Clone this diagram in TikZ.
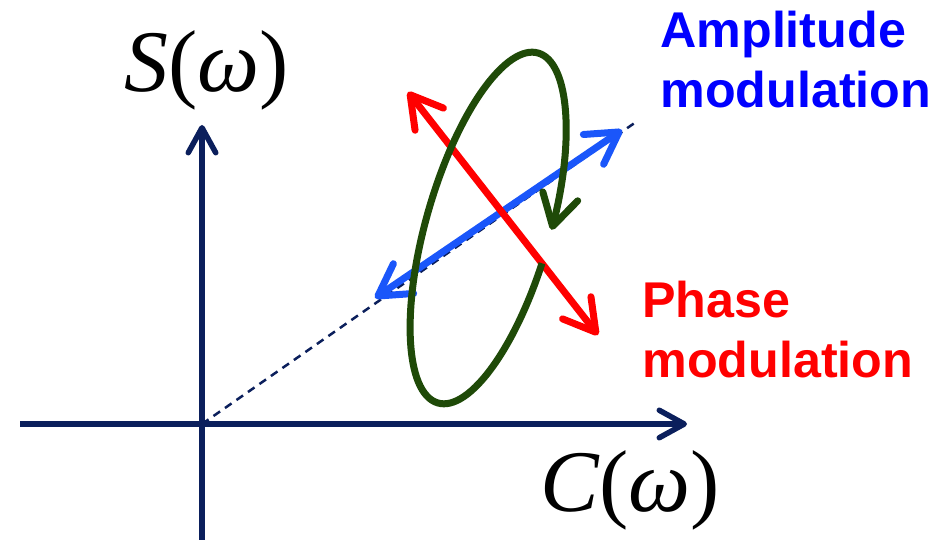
\documentclass[tikz,border=0pt]{standalone}
\usepackage{fontspec}
\setmainfont{Liberation Serif}
\newfontfamily\modfont{Liberation Sans}
\usetikzlibrary{arrows.meta}
\definecolor{AxisNavy}{HTML}{0B1F5C}
\definecolor{AmpBlue}{HTML}{1A56FA}
\definecolor{LabelBlue}{HTML}{0000FF}
\definecolor{PhaseRed}{HTML}{FF0000}
\definecolor{OrbitGreen}{HTML}{1F4A08}

\begin{document}
\begin{tikzpicture}[
      x=0.02cm,y=0.02cm,
      axis/.style={AxisNavy,line width=0.11cm,
                   -{Straight Barb[length=0.5cm,width=0.55cm,round]}},
      mod/.style={line width=0.14cm,
                  {Straight Barb[length=0.62cm,width=0.72cm,round]}-{Straight Barb[length=0.62cm,width=0.72cm,round]}},
      orbit/.style={OrbitGreen,line width=0.14cm,
                    -{Straight Barb[length=0.62cm,width=0.72cm,round]}},
      fn/.style={font=\fontsize{50}{50}\selectfont,inner sep=0pt,anchor=base},
      tag/.style={font=\modfont\bfseries\fontsize{28.6}{34.6}\selectfont,
                  align=left,inner sep=0pt,anchor=base west},
    ]
    \useasboundingbox (0,0) rectangle (949,540);
    % Axes
    \coordinate (O)      at (202,116);
    \coordinate (xstart) at (20,116);
    \coordinate (xend)   at (687,116);
    \coordinate (ystart) at (202,0);
    \coordinate (yend)   at (202,415);
    \coordinate (ray)    at (636,418);
    \draw[axis] (xstart) -- (xend);
    \draw[axis] (ystart) -- (yend);
    \draw[AxisNavy,line width=0.05cm,dash pattern=on 0.16cm off 0.12cm] (O) -- (ray);
    \node[fn] (Slabel) at (207,448) {\textit{S}(\textit{ω})};
    \node[fn] (Clabel) at (630,28)  {\textit{C}(\textit{ω})};
    % Modulation directions
    \coordinate (amp1) at (375,242);
    \coordinate (amp2) at (622,410);
    \coordinate (ph1)  at (408,448);
    \coordinate (ph2)  at (598,205);
    \draw[mod,AmpBlue] (amp1) -- (amp2);
    \draw[mod,PhaseRed] (ph1) -- (ph2);
    % Orbit
    \coordinate (centre) at (488,312);
    \begin{scope}[shift={(centre)},rotate=74]
      \draw[orbit] (264:182 and 62) arc[start angle=264,end angle=-85,x radius=182,y radius=62];
    \end{scope}
    % Labels (anchored on the last line)
    \node[tag,text=LabelBlue] (amplabel) at (660,432) {Amplitude\\modulation};
    \node[tag,text=PhaseRed]  (phlabel)  at (642,162) {Phase\\modulation};
  \end{tikzpicture}
\end{document}
